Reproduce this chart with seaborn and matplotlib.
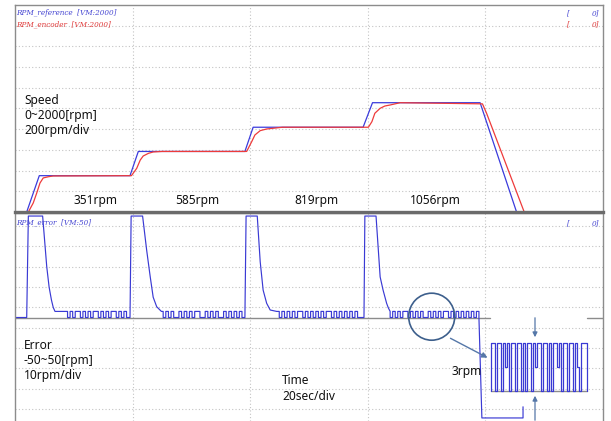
import numpy as np
import pandas as pd
import matplotlib
matplotlib.use("Agg")
import matplotlib.pyplot as plt
import seaborn as sns
from matplotlib.patches import Ellipse, FancyArrowPatch

sns.set_theme(style="white")
plt.rcParams['font.family'] = ['Noto Sans', 'DejaVu Sans']

# ---------------- data (time in s, speed / error in rpm) ----------------
ref_t = [0, 1.99, 4.13, 19.56, 20.97, 39.1, 40.5, 59.2, 60.8, 79.1, 85.3, 86.4]
ref_v = [0, 0, 351, 351, 585, 585, 819, 819, 1056, 1056, 0, 0]

enc_t = [0, 2.27, 3.1, 3.7, 4.25, 4.8, 5.7, 6.5, 19.8, 20.7, 21.3, 21.8, 22.7, 23.5, 25.0,
         39.4, 40.25, 40.8, 41.7, 42.8, 43.9, 45.5, 60.1, 60.7, 61.2, 62.1, 62.9, 63.8, 65.5,
         79.5, 80.2, 86.6, 89.3]
enc_v = [0, 0, 87, 184, 280, 329, 341, 348, 351, 422, 502, 541, 567, 580, 585,
         585, 679, 744, 786, 802, 809, 819, 819, 873, 954, 1002, 1024, 1034, 1056,
         1045, 954, 0, 0]

err_spike_t = [[0, 1.99, 2.27, 4.7, 5.1, 5.4, 5.8, 6.2, 6.5, 6.8, 8.5],
               [19.4, 19.56, 19.75, 21.7, 22.4, 23.0, 23.5, 24.1, 24.9, 25.2],
               [38.6, 39.1, 39.3, 41.2, 41.7, 42.2, 42.8, 43.4, 44.5],
               [58.7, 59.35, 59.5, 61.4, 62.1, 62.6, 63.2, 63.5, 63.8],
               [78.9, 79.4, 86.4, 86.4]]
err_spike_v = [[0, 0, 50, 50, 36, 25, 15, 8.6, 5, 3, 3],
               [0, 0, 50, 50, 33, 20, 10, 5.3, 3, 3],
               [0, 0, 50, 50, 27.5, 13.5, 7, 3.7, 3],
               [0, 0, 50, 50, 20, 13.5, 7, 4.7, 3],
               [0, -49.5, -49.5, -44]]
# quantisation noise (rpm samples) between the spikes
err_noise = ["3030330303033030303303030",
             "030300303030330030303003030303",
             "30303030330303030303303030303030",
             "03030330303030030303033030303030303"]

# zoomed view of the 3 rpm ripple
inset_levels = [3, 3, 0, 3, 3, 0, 3, 1.5, 3, 0, 3, 3, 0, 3, 3, 0, 3, 0, 3, 3, 0, 3, 1.5, 3,
                3, 0, 3, 3, 0, 3, 0, 3, 3, 1.5, 3, 0, 3, 3, 0, 3, 3, 0, 3, 1.5, 0, 3, 3, 3]

speed_labels = ["351rpm", "585rpm", "819rpm", "1056rpm"]

# ---------------- build error trace ----------------
err_t, err_v = [], []
for i, (gt, gv) in enumerate(zip(err_spike_t, err_spike_v)):
    err_t += gt
    err_v += gv
    if i < len(err_noise):
        t0, t1 = gt[-1], err_spike_t[i + 1][0]
        pat = err_noise[i]
        dt = (t1 - t0) / len(pat)
        for k, ch in enumerate(pat):
            err_t += [t0 + k * dt, t0 + (k + 1) * dt]
            err_v += [float(ch), float(ch)]

ref_df = pd.DataFrame({"t": ref_t, "v": ref_v})
enc_df = pd.DataFrame({"t": enc_t, "v": enc_v})
err_df = pd.DataFrame({"t": err_t, "v": err_v})

W, H = 611, 421
fig = plt.figure(figsize=(W / 100, H / 100), dpi=100)
fig.patch.set_facecolor("white")

def fx(px):
    return px / W

def fy(py):
    return 1 - py / H

BLUE = "#3b3bdc"
RED = "#ee3b3b"
GRID = "#c4c4c4"
SPINE = "#8c8c8c"

def style_axes(ax):
    ax.set_xticks([20, 40, 60, 80])
    ax.tick_params(left=False, bottom=False, labelleft=False, labelbottom=False)
    ax.grid(True, color=GRID, linestyle=(0, (1, 2)), linewidth=0.8)
    ax.set_xlabel("")
    ax.set_ylabel("")
    for s in ax.spines.values():
        s.set_color(SPINE)
        s.set_linewidth(1.0)

# ---------------- top: speed ----------------
ax1 = fig.add_axes([fx(15), fy(212), fx(603) - fx(15), fy(5) - fy(212)])
sns.lineplot(data=ref_df, x="t", y="v", ax=ax1, color=BLUE, lw=0.9, sort=False, estimator=None)
sns.lineplot(data=enc_df, x="t", y="v", ax=ax1, color=RED, lw=0.9, sort=False, estimator=None)
ax1.set_xlim(0, 100)
ax1.set_ylim(0, 2000)
ax1.set_yticks(range(200, 2000, 200))
style_axes(ax1)
ax1.spines["bottom"].set_linewidth(2.4)
ax1.spines["bottom"].set_color("#6b6b6b")
for line in ax1.get_lines():
    line.set_clip_on(False)

# ---------------- bottom: error ----------------
ax2 = fig.add_axes([fx(15), 0, fx(603) - fx(15), fy(213)])
ax2.set_zorder(-1)
sns.lineplot(data=err_df, x="t", y="v", ax=ax2, color="#3a3ad4", lw=0.85, sort=False, estimator=None)
ax2.set_xlim(0, 100)
ax2.set_ylim(-51.0, 51.5)
ax2.set_yticks(np.arange(-45, 50, 10))
style_axes(ax2)
ax2.spines["bottom"].set_visible(False)
ax2.axhline(0, xmin=0, xmax=475 / 588, color="#8c8c8c", lw=1.0, zorder=1)
ax2.axhline(0, xmin=572 / 588, xmax=1, color="#8c8c8c", lw=1.0, zorder=1)

# ---------------- channel labels ----------------
lab = dict(fontsize=5.2, style="italic", family=["DejaVu Serif"], va="center")
fig.text(fx(16), fy(13), "RPM_reference  [VM:2000]", color="#4646d2", ha="left", **lab)
fig.text(fx(16), fy(24), "RPM_encoder  [VM:2000]", color="#e03a3a", ha="left", **lab)
fig.text(fx(16), fy(222), "RPM_error  [VM:50]", color="#4646d2", ha="left", **lab)
for yy, cc in [(13, "#4646d2"), (24, "#e03a3a"), (223, "#4646d2")]:
    fig.text(fx(567), fy(yy), "[", color=cc, ha="left", **lab)
    fig.text(fx(599), fy(yy), "0]", color=cc, ha="right", **lab)

# ---------------- annotations ----------------
txt = dict(fontsize=8.6, color="#111111", va="center")
for s, yy in zip(["Speed", "0~2000[rpm]", "200rpm/div"], [100.7, 115.7, 130.7]):
    fig.text(fx(24), fy(yy), s, ha="left", **txt)
for s, xx in zip(speed_labels, [96, 197, 316, 435]):
    fig.text(fx(xx), fy(200.5), s, ha="center", **txt)
for s, yy in zip(["Error", "-50~50[rpm]", "10rpm/div"], [345.7, 360.7, 375.7]):
    fig.text(fx(24), fy(yy), s, ha="left", **txt)
fig.text(fx(282), fy(381), "Time", ha="left", **txt)
fig.text(fx(282), fy(396.5), "20sec/div", ha="left", **txt)
fig.text(fx(452), fy(372), "3rpm", ha="left", **txt)

# ---------------- zoom circle, arrows ----------------
CIRC = "#3d5f8c"
fig.add_artist(Ellipse((fx(431.7), fy(316.7)), width=46 / W, height=47 / H,
                       transform=fig.transFigure, fill=False, ec=CIRC, lw=1.2))
fig.add_artist(FancyArrowPatch((fx(448), fy(337)), (fx(490), fy(359)), transform=fig.transFigure,
                               arrowstyle="-|>", mutation_scale=8, color="#5577a8", lw=1.0))
fig.add_artist(FancyArrowPatch((fx(535), fy(315)), (fx(535), fy(340)), transform=fig.transFigure,
                               arrowstyle="-|>", mutation_scale=7, color="#5577a8", lw=0.9))
fig.add_artist(FancyArrowPatch((fx(535), fy(423)), (fx(535), fy(393)), transform=fig.transFigure,
                               arrowstyle="-|>", mutation_scale=7, color="#5577a8", lw=0.9))

# ---------------- inset ripple ----------------
axi = fig.add_axes([fx(488), fy(398), fx(590) - fx(488), fy(336) - fy(398)])
axi.patch.set_alpha(0)
n = len(inset_levels)
it, iv = [0.0], [0.0]
for k, v in enumerate(inset_levels):
    it += [k, k + 1]
    iv += [v, v]
it.append(n)
iv.append(0.0)
ins_df = pd.DataFrame({"t": it, "v": iv})
axi.axhline(0, xmin=3 / 102, xmax=99 / 102, color="#8c8c8c", lw=1.0)
sns.lineplot(data=ins_df, x="t", y="v", ax=axi, color="#3a3ad4", lw=0.9, sort=False, estimator=None)
pad = 3 / 96 * n
axi.set_xlim(-pad, n + pad)
axi.set_ylim(-7 / 16, 3 + 7 / 16)
axi.axis("off")

fig.savefig("out.png", dpi=100, facecolor="white")
